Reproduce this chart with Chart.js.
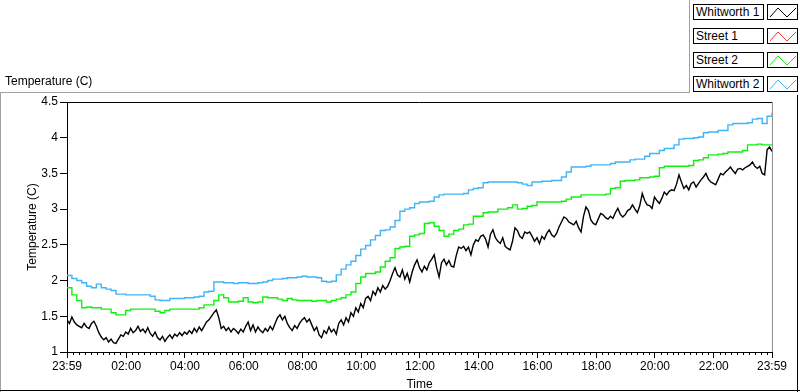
<!DOCTYPE html>
<html>
<head>
<meta charset="utf-8">
<script src="https://cdn.jsdelivr.net/npm/chart.js@4.4.1/dist/chart.umd.min.js"></script>
<style>
  html, body { margin: 0; padding: 0; background: #fff; }
  #wrap { position: relative; width: 800px; height: 392px; overflow: hidden; font-family: "Liberation Sans", Arial, sans-serif; color: #000; }
  #chart { position: absolute; left: 0; top: 0; }
  .rule { position: absolute; }
  #chartLabel { position: absolute; left: 5px; top: 74px; font-size: 12px; }
  .legName { position: absolute; left: 693px; width: 71px; height: 16px; box-sizing: border-box; border: 1px solid #000; background: #fff; font-size: 12px; line-height: 14px; padding-left: 2px; white-space: nowrap; }
  .legSwatch { position: absolute; left: 767px; width: 31px; height: 16px; box-sizing: border-box; border: 1px solid #000; background: #fff; }
  .legSwatch svg { position: absolute; left: 0; top: 0; }
</style>
</head>
<body>
<div id="wrap">
  <canvas id="chart" width="800" height="392"></canvas>
  <div id="chartLabel">Temperature (C)</div>
  <div class="rule" style="left:0;top:92px;width:690px;height:1px;background:#a0a0a0"></div>
  <div class="rule" style="left:689px;top:0;width:1px;height:93px;background:#a0a0a0"></div>
  <div class="rule" style="left:0;top:92px;width:1px;height:300px;background:#a0a0a0"></div>
  <div class="rule" style="left:797px;top:95px;width:1px;height:297px;background:#000"></div>
  <div class="rule" style="left:0;top:390px;width:800px;height:1px;background:#000"></div>
  <div id="legend"></div>
</div>
<script>
// Series names and colours
const seriesNames = ['Whitworth 1', 'Street 1', 'Street 2', 'Whitworth 2'];
const seriesColors = ['#000000', '#ff3030', '#10f010', '#40b4f8'];

// X axis: minutes after 23:59
const xTickMinutes = [0, 121, 241, 361, 481, 601, 721, 841, 961, 1081, 1201, 1321, 1440];
const xTickLabels = ['23:59', '02:00', '04:00', '06:00', '08:00', '10:00', '12:00', '14:00', '16:00', '18:00', '20:00', '22:00', '23:59'];
const minorStep = 12;

// Y axis
const yTicks = [1, 1.5, 2, 2.5, 3, 3.5, 4, 4.5];

// Whitworth 1, one value every 5 minutes (one row per hour)
const whitworth1 = [
  1.45, 1.40, 1.49, 1.42, 1.38, 1.36, 1.34, 1.40, 1.35, 1.33, 1.40, 1.43,
  1.36, 1.27, 1.21, 1.17, 1.20, 1.14, 1.18, 1.13, 1.12, 1.18, 1.24, 1.22,
  1.28, 1.25, 1.33, 1.27, 1.30, 1.36, 1.29, 1.32, 1.27, 1.34, 1.26, 1.22,
  1.28, 1.20, 1.17, 1.22, 1.15, 1.20, 1.24, 1.19, 1.25, 1.22, 1.27, 1.23,
  1.28, 1.25, 1.30, 1.26, 1.33, 1.28, 1.35, 1.30, 1.36, 1.42, 1.45, 1.50,
  1.55, 1.59, 1.48, 1.33, 1.36, 1.30, 1.34, 1.28, 1.33, 1.30, 1.26, 1.32,
  1.28, 1.36, 1.42, 1.30, 1.38, 1.28, 1.35, 1.30, 1.27, 1.33, 1.29, 1.36,
  1.31, 1.40, 1.48, 1.52, 1.45, 1.50, 1.40, 1.34, 1.30, 1.37, 1.33, 1.40,
  1.45, 1.48, 1.42, 1.46, 1.38, 1.30, 1.35, 1.24, 1.20, 1.30, 1.26, 1.35,
  1.28, 1.32, 1.25, 1.40, 1.45, 1.38, 1.48, 1.42, 1.55, 1.50, 1.62, 1.56,
  1.68, 1.62, 1.75, 1.78, 1.72, 1.85, 1.80, 1.90, 1.84, 1.93, 1.88, 1.92,
  2.00, 2.10, 2.18, 2.08, 2.05, 2.15, 2.02, 2.10, 1.98, 2.12, 2.22, 2.29,
  2.18, 2.12, 2.20, 2.15, 2.25, 2.30, 2.36, 2.18, 2.05, 2.25, 2.30, 2.22,
  2.28, 2.20, 2.19, 2.35, 2.47, 2.45, 2.48, 2.42, 2.47, 2.36, 2.50, 2.57,
  2.55, 2.62, 2.64, 2.58, 2.47, 2.65, 2.71, 2.60, 2.55, 2.52, 2.60, 2.48,
  2.45, 2.43, 2.55, 2.74, 2.70, 2.62, 2.59, 2.68, 2.66, 2.68, 2.62, 2.55,
  2.60, 2.52, 2.62, 2.58, 2.66, 2.71, 2.64, 2.61, 2.66, 2.75, 2.82, 2.89,
  2.87, 2.82, 2.80, 2.78, 2.83, 2.74, 2.68, 2.90, 3.03, 2.98, 2.85, 2.80,
  2.78, 2.86, 2.94, 2.92, 2.88, 2.86, 2.90, 2.87, 2.95, 3.01, 2.93, 2.89,
  2.92, 2.98, 3.00, 3.06, 3.00, 2.95, 3.05, 3.22, 3.12, 3.06, 3.05, 3.01,
  3.17, 3.12, 3.08, 3.15, 3.24, 3.20, 3.25, 3.27, 3.26, 3.35, 3.48, 3.38,
  3.29, 3.33, 3.27, 3.36, 3.38, 3.31, 3.36, 3.41, 3.45, 3.50, 3.42, 3.38,
  3.36, 3.34, 3.42, 3.50, 3.48, 3.52, 3.55, 3.59, 3.54, 3.50, 3.56, 3.57,
  3.55, 3.58, 3.60, 3.62, 3.66, 3.60, 3.57, 3.60, 3.50, 3.48, 3.83, 3.87,
  3.81
];

// Street 1 has no visible trace
const street1 = [];

// Street 2, one value every 10 minutes
const street2 = [
  1.90, 1.80, 1.72, 1.62, 1.63, 1.62,
  1.62, 1.60, 1.60, 1.55, 1.52, 1.52,
  1.58, 1.60, 1.60, 1.60, 1.60, 1.60,
  1.57, 1.55, 1.58, 1.60, 1.60, 1.60,
  1.60, 1.60, 1.60, 1.62, 1.66, 1.66,
  1.72, 1.80, 1.76, 1.70, 1.70, 1.71,
  1.76, 1.70, 1.69, 1.70, 1.77, 1.76,
  1.76, 1.74, 1.72, 1.75, 1.73, 1.72,
  1.72, 1.72, 1.71, 1.72, 1.72, 1.70,
  1.72, 1.74, 1.76, 1.80, 1.84, 1.96,
  2.05, 2.10, 2.10, 2.12, 2.19, 2.27,
  2.32, 2.45, 2.47, 2.48, 2.62, 2.64,
  2.66, 2.80, 2.81, 2.76, 2.70, 2.62,
  2.65, 2.70, 2.72, 2.78, 2.79, 2.90,
  2.90, 2.95, 2.96, 2.96, 3.00, 3.00,
  3.02, 3.06, 3.00, 3.01, 3.04, 3.05,
  3.10, 3.10, 3.10, 3.10, 3.10, 3.11,
  3.14, 3.17, 3.17, 3.20, 3.20, 3.20,
  3.20, 3.20, 3.21, 3.29, 3.30, 3.39,
  3.40, 3.40, 3.41, 3.44, 3.44, 3.45,
  3.46, 3.58, 3.60, 3.60, 3.60, 3.60,
  3.60, 3.61, 3.68, 3.69, 3.72, 3.76,
  3.76, 3.77, 3.78, 3.80, 3.80, 3.80,
  3.82, 3.90, 3.90, 3.91, 3.90, 3.90,
  3.90
];

// Whitworth 2, one value every 10 minutes
const whitworth2 = [
  2.07, 2.03, 2.00, 1.97, 1.92, 1.90,
  1.95, 1.90, 1.88, 1.86, 1.81, 1.81,
  1.80, 1.80, 1.80, 1.80, 1.80, 1.78,
  1.73, 1.72, 1.72, 1.75, 1.75, 1.75,
  1.76, 1.76, 1.77, 1.78, 1.84, 1.85,
  1.98, 1.98, 1.97, 1.97, 1.96, 1.97,
  1.97, 1.96, 1.96, 1.97, 1.98, 2.00,
  2.02, 2.02, 2.03, 2.04, 2.04, 2.05,
  2.06, 2.05, 2.05, 2.04, 1.99, 1.98,
  1.99, 2.08, 2.16, 2.22, 2.27, 2.35,
  2.44, 2.49, 2.57, 2.63, 2.70, 2.71,
  2.75, 2.84, 2.97, 3.00, 3.02, 3.08,
  3.10, 3.10, 3.11, 3.17, 3.20, 3.21,
  3.21, 3.21, 3.21, 3.22, 3.27, 3.29,
  3.30, 3.37, 3.38, 3.38, 3.38, 3.38,
  3.38, 3.38, 3.37, 3.35, 3.33, 3.38,
  3.38, 3.39, 3.39, 3.40, 3.40, 3.45,
  3.52, 3.59, 3.59, 3.59, 3.60, 3.62,
  3.62, 3.62, 3.62, 3.64, 3.66, 3.66,
  3.66, 3.69, 3.70, 3.70, 3.74, 3.78,
  3.78, 3.82, 3.85, 3.85, 3.90, 3.98,
  3.99, 3.99, 4.00, 4.01, 4.07, 4.08,
  4.08, 4.10, 4.10, 4.18, 4.20, 4.20,
  4.20, 4.21, 4.26, 4.27, 4.20, 4.30,
  4.35
];

const seriesData = [whitworth1, street1, street2, whitworth2];
const seriesStep = [5, 10, 10, 10]; // minutes between samples
const seriesStepped = [false, false, true, true];

function toPoints(values, step) {
    return values.map((v, i) => ({ x: i * step, y: v }));
}

const tickFont = { family: '"Liberation Sans", Arial, sans-serif', size: 12 };

// Top and right edges of the plot frame
const frameEdges = {
    id: 'frameEdges',
    afterDraw(chart) {
        const { ctx, chartArea: a } = chart;
        ctx.save();
        ctx.lineWidth = 1;
        ctx.strokeStyle = '#000';
        ctx.beginPath();
        ctx.moveTo(a.left, Math.round(a.top) + 0.5);
        ctx.lineTo(a.right, Math.round(a.top) + 0.5);
        ctx.stroke();
        ctx.strokeStyle = '#909090';
        ctx.beginPath();
        ctx.moveTo(Math.round(a.right) + 0.5, a.top);
        ctx.lineTo(Math.round(a.right) + 0.5, a.bottom);
        ctx.stroke();
        ctx.restore();
    }
};

// Short minor ticks on the time axis
const minorTicks = {
    id: 'minorTicks',
    afterDraw(chart) {
        const { ctx } = chart;
        const xs = chart.scales.x;
        ctx.save();
        ctx.strokeStyle = '#000';
        ctx.lineWidth = 1;
        ctx.beginPath();
        for (let t = 1; t < xs.max; t += minorStep) {
            if (xTickMinutes.includes(t)) continue;
            const px = Math.round(xs.getPixelForValue(t)) + 0.5;
            ctx.moveTo(px, xs.top);
            ctx.lineTo(px, xs.top + 3);
        }
        ctx.stroke();
        ctx.restore();
    }
};

const ctx = document.getElementById('chart').getContext('2d');
const chart = new Chart(ctx, {
    type: 'line',
    data: {
        datasets: seriesNames.map((name, i) => ({
            label: name,
            data: toPoints(seriesData[i], seriesStep[i]),
            borderColor: seriesColors[i],
            borderWidth: 1.4,
            pointRadius: 0,
            tension: 0,
            stepped: seriesStepped[i],
            fill: false
        }))
    },
    options: {
        responsive: false,
        animation: false,
        layout: { padding: { left: 0, top: 102, right: 28, bottom: 0 } },
        plugins: {
            legend: { display: false },
            tooltip: { enabled: false }
        },
        scales: {
            x: {
                type: 'linear',
                min: 0,
                max: 1440,
                afterBuildTicks: (s) => { s.ticks = xTickMinutes.map(v => ({ value: v })); },
                afterFit: (s) => { s.height = 40; },
                ticks: {
                    autoSkip: false,
                    maxRotation: 0,
                    padding: 1,
                    color: '#000',
                    font: tickFont,
                    callback: (v, i) => xTickLabels[i]
                },
                grid: { drawOnChartArea: false, drawTicks: true, tickLength: 6, tickColor: '#000' },
                border: { color: '#000' },
                title: { display: true, text: 'Time', color: '#000', font: tickFont, padding: { top: 0, bottom: 0 } }
            },
            y: {
                min: 1,
                max: 4.5,
                afterBuildTicks: (s) => { s.ticks = yTicks.map(v => ({ value: v })); },
                afterFit: (s) => { s.width = 67; },
                ticks: {
                    padding: 2,
                    color: '#000',
                    font: tickFont,
                    callback: (v) => String(v)
                },
                grid: { drawOnChartArea: false, drawTicks: true, tickLength: 7, tickColor: '#000' },
                border: { color: '#000' },
                title: { display: true, text: 'Temperature (C)', color: '#000', font: tickFont, padding: { top: 25, bottom: 0 } }
            }
        }
    },
    plugins: [frameEdges, minorTicks]
});

// Legend boxes built from the datasets
const legend = document.getElementById('legend');
chart.data.datasets.forEach((ds, i) => {
    const top = 4 + i * 24;
    const name = document.createElement('div');
    name.className = 'legName';
    name.style.top = top + 'px';
    name.textContent = ds.label;
    legend.appendChild(name);

    const sw = document.createElement('div');
    sw.className = 'legSwatch';
    sw.style.top = top + 'px';
    sw.innerHTML = '<svg width="31" height="16"><polyline points="2,12 10,3 19,12 28,3" fill="none" stroke="' +
        ds.borderColor + '" stroke-width="1"/></svg>';
    legend.appendChild(sw);
});
</script>
</body>
</html>
